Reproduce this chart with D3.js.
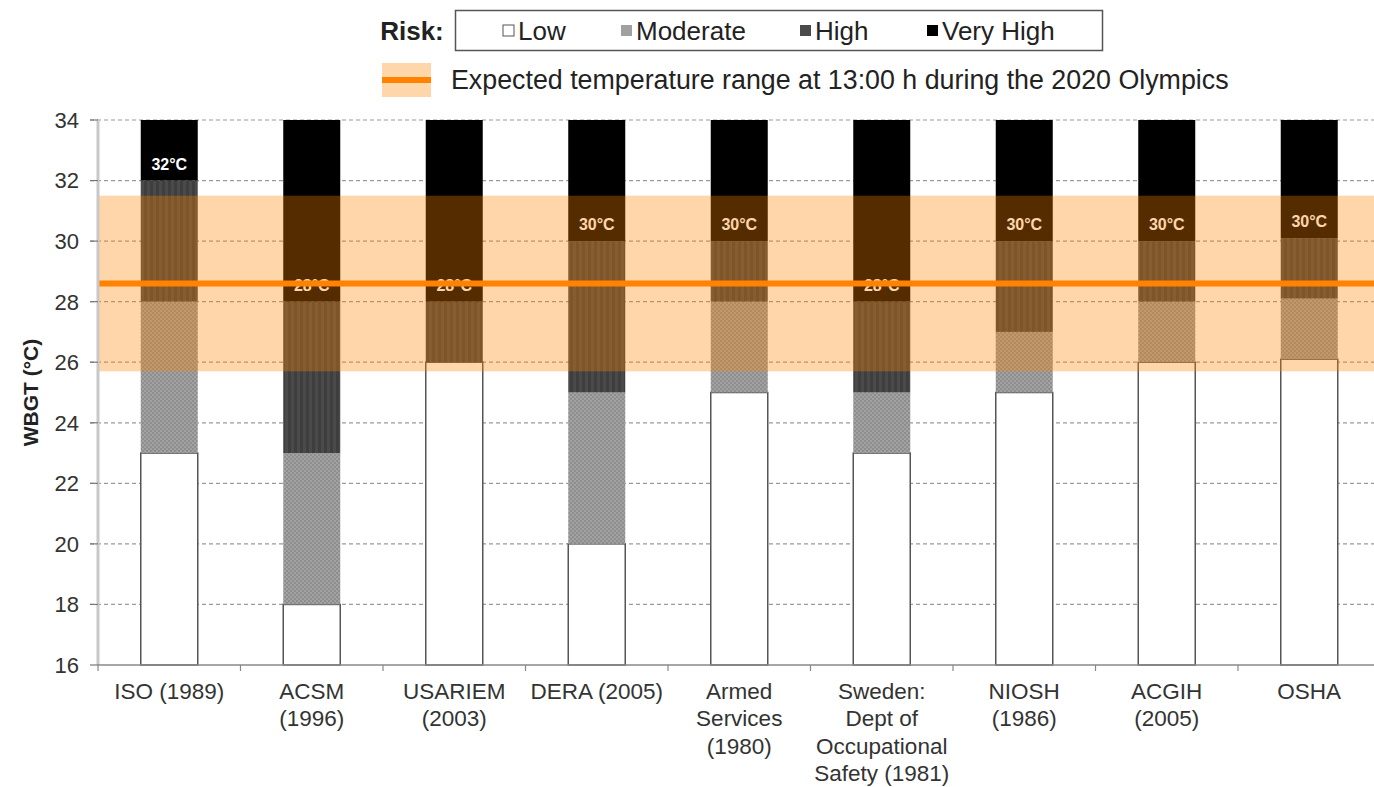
<!DOCTYPE html>
<html>
<head>
<meta charset="utf-8">
<script src="https://cdn.jsdelivr.net/npm/d3@7"></script>
<style>
  html, body { margin: 0; padding: 0; background: #fff; }
  svg { display: block; font-family: "Liberation Sans", Arial, sans-serif; }
</style>
</head>
<body>
<svg id="chart" width="1374" height="787"></svg>
<script>
// ---------------- DATA ----------------
const categories = [
  ["ISO (1989)"],
  ["ACSM", "(1996)"],
  ["USARIEM", "(2003)"],
  ["DERA (2005)"],
  ["Armed", "Services", "(1980)"],
  ["Sweden:", "Dept of", "Occupational", "Safety (1981)"],
  ["NIOSH", "(1986)"],
  ["ACGIH", "(2005)"],
  ["OSHA"]
];
// upper WBGT bound (°C) of each risk band, per guideline
const lowTop      = [23, 18, 26, 20, 25, 23, 25, 26, 26.1];
const moderateTop = [28, 23, 26, 25, 28, 25, 27, 28, 28.1];
const highTop     = [32, 28, 28, 30, 30, 28, 30, 30, 30.1];
const veryHighTop = [34, 34, 34, 34, 34, 34, 34, 34, 34];
const thresholdLabels = ["32°C", "28°C", "28°C", "30°C", "30°C", "28°C", "30°C", "30°C", "30°C"];
const riskLevels = ["Low", "Moderate", "High", "Very High"];
const yTicks = [16, 18, 20, 22, 24, 26, 28, 30, 32, 34];
const yDomain = [16, 34];
const expectedRange = [25.7, 31.5];
const expectedValue = 28.6;
const expectedLabel = "Expected temperature range at 13:00 h during the 2020 Olympics";

// ---------------- LAYOUT ----------------
const svg = d3.select("#chart");
const pLeft = 98, pRight = 1380.5, pTop = 120, pBottom = 665;

const x = d3.scaleBand()
  .domain(categories.map((d, i) => i))
  .range([pLeft, pRight])
  .paddingInner(0.6)
  .paddingOuter(0.3);
const y = d3.scaleLinear().domain(yDomain).range([pBottom, pTop]);

// patterns
const defs = svg.append("defs");
const pMod = defs.append("pattern").attr("id", "patMod").attr("patternUnits", "userSpaceOnUse")
  .attr("width", 4).attr("height", 4);
pMod.append("rect").attr("width", 4).attr("height", 4).attr("fill", "#a2a2a2");
pMod.append("rect").attr("width", 2).attr("height", 2).attr("fill", "#8e8e8e");
pMod.append("rect").attr("x", 2).attr("y", 2).attr("width", 2).attr("height", 2).attr("fill", "#8e8e8e");
const pHigh = defs.append("pattern").attr("id", "patHigh").attr("patternUnits", "userSpaceOnUse")
  .attr("width", 6).attr("height", 6);
pHigh.append("rect").attr("width", 6).attr("height", 6).attr("fill", "#4a4a4a");
pHigh.append("rect").attr("width", 3).attr("height", 6).attr("fill", "#3e3e3e");

const fills = ["#ffffff", "url(#patMod)", "url(#patHigh)", "#000000"];
const legendFills = ["#ffffff", "#a0a0a0", "#4a4a4a", "#000000"];

// ---------------- GRID ----------------
svg.append("g").selectAll("line")
  .data(yTicks.filter(t => t !== yDomain[0]))
  .join("line")
  .attr("x1", pLeft - 8).attr("x2", pRight)
  .attr("y1", d => y(d)).attr("y2", d => y(d))
  .attr("stroke", "#9a9a9a").attr("stroke-width", 1.2)
  .attr("stroke-dasharray", "4,3");

// ---------------- BARS ----------------
const segs = [];
categories.forEach((c, i) => {
  const bounds = [yDomain[0], lowTop[i], moderateTop[i], highTop[i], veryHighTop[i]];
  for (let k = 0; k < 4; k++) {
    if (bounds[k + 1] > bounds[k]) segs.push({ i, k, y0: bounds[k], y1: bounds[k + 1] });
  }
});
svg.append("g").selectAll("rect")
  .data(segs)
  .join("rect")
  .attr("x", d => x(d.i))
  .attr("width", x.bandwidth())
  .attr("y", d => y(d.y1))
  .attr("height", d => y(d.y0) - y(d.y1))
  .attr("fill", d => fills[d.k])
  .attr("stroke", d => d.k === 0 ? "#555" : "none")
  .attr("stroke-width", 1.5);

// threshold labels (below the overlay)
svg.append("g").selectAll("text")
  .data(thresholdLabels)
  .join("text")
  .attr("x", (d, i) => x(i) + x.bandwidth() / 2)
  .attr("y", (d, i) => y(highTop[i]) - 11)
  .attr("text-anchor", "middle")
  .attr("font-size", 16).attr("font-weight", "bold")
  .attr("fill", "#ffffff")
  .text(d => d);

// ---------------- OVERLAY ----------------
svg.append("rect")
  .attr("x", pLeft).attr("width", pRight - pLeft)
  .attr("y", y(expectedRange[1]))
  .attr("height", y(expectedRange[0]) - y(expectedRange[1]))
  .attr("fill", "#ff8000").attr("fill-opacity", 0.333);
svg.append("line")
  .attr("x1", pLeft).attr("x2", pRight)
  .attr("y1", y(expectedValue)).attr("y2", y(expectedValue))
  .attr("stroke", "#ff8200").attr("stroke-width", 6);

// ---------------- AXES ----------------
// y axis
svg.append("line").attr("x1", pLeft).attr("x2", pLeft).attr("y1", pTop).attr("y2", pBottom)
  .attr("stroke", "#c8c8c8").attr("stroke-width", 3);
svg.append("g").selectAll("line")
  .data(yTicks).join("line")
  .attr("x1", pLeft - 8).attr("x2", pLeft)
  .attr("y1", d => y(d)).attr("y2", d => y(d))
  .attr("stroke", "#777").attr("stroke-width", 1.2);
svg.append("g").selectAll("text")
  .data(yTicks).join("text")
  .attr("x", pLeft - 19).attr("y", d => y(d))
  .attr("dy", "0.36em")
  .attr("text-anchor", "end")
  .attr("font-size", 22).attr("fill", "#333")
  .text(d => d);
svg.append("text")
  .attr("transform", `translate(${38},${(pTop + pBottom) / 2}) rotate(-90)`)
  .attr("text-anchor", "middle")
  .attr("font-size", 21).attr("font-weight", "bold").attr("fill", "#222")
  .text("WBGT (°C)");

// x axis
svg.append("line").attr("x1", pLeft).attr("x2", pRight).attr("y1", pBottom).attr("y2", pBottom)
  .attr("stroke", "#888").attr("stroke-width", 1.5);
const step = x.step();
svg.append("g").selectAll("line")
  .data(d3.range(categories.length + 1)).join("line")
  .attr("x1", d => pLeft + d * step).attr("x2", d => pLeft + d * step)
  .attr("y1", pBottom).attr("y2", pBottom + 6)
  .attr("stroke", "#888").attr("stroke-width", 1.2);
const xl = svg.append("g").selectAll("text")
  .data(categories).join("text")
  .attr("x", (d, i) => x(i) + x.bandwidth() / 2)
  .attr("y", 699)
  .attr("text-anchor", "middle")
  .attr("font-size", 22.5).attr("fill", "#333");
xl.selectAll("tspan")
  .data(d => d).join("tspan")
  .attr("x", function () { return this.parentNode.getAttribute("x"); })
  .attr("dy", (d, j) => j === 0 ? 0 : 27.3)
  .text(d => d);

// ---------------- LEGEND ----------------
svg.append("text").attr("x", 412).attr("y", 40).attr("text-anchor", "middle")
  .attr("font-size", 26).attr("font-weight", "bold").attr("fill", "#222").text("Risk:");
svg.append("rect").attr("x", 455.5).attr("y", 10.5).attr("width", 647).attr("height", 40)
  .attr("fill", "#fff").attr("stroke", "#555").attr("stroke-width", 1.5);
const legX = [503, 621, 800, 927];
const li = svg.append("g").selectAll("g").data(riskLevels).join("g")
  .attr("transform", (d, i) => `translate(${legX[i]},0)`);
li.append("rect").attr("x", 0).attr("y", 25).attr("width", 11).attr("height", 11)
  .attr("fill", (d, i) => legendFills[i])
  .attr("stroke", (d, i) => i === 0 ? "#555" : "none").attr("stroke-width", 1);
li.append("text").attr("x", 15).attr("y", 40).attr("font-size", 26).attr("fill", "#222").text(d => d);

svg.append("rect").attr("x", 382).attr("y", 63).attr("width", 49).attr("height", 34)
  .attr("fill", "#ff8000").attr("fill-opacity", 0.333);
svg.append("line").attr("x1", 382).attr("x2", 431).attr("y1", 80).attr("y2", 80)
  .attr("stroke", "#ff8200").attr("stroke-width", 6);
svg.append("text").attr("x", 451).attr("y", 89).attr("font-size", 26.8).attr("fill", "#222")
  .text(expectedLabel);
</script>
</body>
</html>
